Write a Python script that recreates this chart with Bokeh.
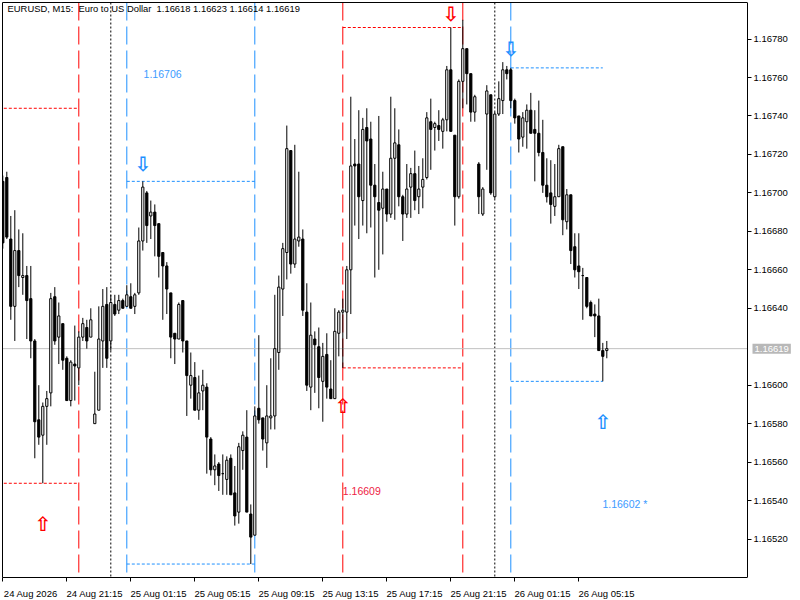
from bokeh.plotting import figure
from bokeh.models import (FixedTicker, Span, PrintfTickFormatter, Range1d, ColumnDataSource,
                          LinearAxis)
from bokeh.core.properties import value
from bokeh.embed import file_html
from bokeh.resources import INLINE

# ---------------- data (EURUSD M15) ----------------
opens = [1.16706, 1.16708, 1.16676, 1.16641, 1.16670, 1.16656, 1.16657, 1.16645, 1.16623, 1.16582,
         1.16574, 1.16589, 1.16596, 1.16646, 1.16625, 1.16632, 1.16614, 1.16592, 1.16611, 1.16609,
         1.16625, 1.16630, 1.16625, 1.16580, 1.16587, 1.16623, 1.16642, 1.16623, 1.16642, 1.16639,
         1.16644, 1.16641, 1.16646, 1.16641, 1.16648, 1.16675, 1.16700, 1.16688, 1.16690, 1.16684,
         1.16669, 1.16662, 1.16648, 1.16627, 1.16624, 1.16644, 1.16623, 1.16600, 1.16604, 1.16587,
         1.16597, 1.16599, 1.16572, 1.16556, 1.16559, 1.16554, 1.16551, 1.16562, 1.16544, 1.16534,
         1.16566, 1.16573, 1.16533, 1.16522, 1.16588, 1.16583, 1.16570, 1.16583, 1.16584, 1.16617,
         1.16650, 1.16669, 1.16722, 1.16663, 1.16675, 1.16676, 1.16638, 1.16599, 1.16624, 1.16620,
         1.16602, 1.16616, 1.16598, 1.16593, 1.16627, 1.16638, 1.16638, 1.16660, 1.16715, 1.16715,
         1.16696, 1.16734, 1.16728, 1.16704, 1.16695, 1.16692, 1.16702, 1.16689, 1.16718, 1.16725,
         1.16698, 1.16689, 1.16703, 1.16710, 1.16698, 1.16703, 1.16708, 1.16737, 1.16734, 1.16735,
         1.16732, 1.16738, 1.16764, 1.16730, 1.16698, 1.16758, 1.16775, 1.16762, 1.16742, 1.16715,
         1.16689, 1.16741, 1.16751, 1.16698, 1.16741, 1.16748, 1.16764, 1.16764, 1.16748, 1.16740,
         1.16729, 1.16737, 1.16743, 1.16733, 1.16731, 1.16721, 1.16704, 1.16700, 1.16693, 1.16698,
         1.16724, 1.16685, 1.16699, 1.16672, 1.16662, 1.16657, 1.16656, 1.16643, 1.16637, 1.16636,
         1.16618, 1.16618]
highs = [1.16709, 1.16711, 1.16688, 1.16691, 1.16681, 1.16679, 1.16662, 1.16662, 1.16624, 1.16600,
         1.16591, 1.16597, 1.16648, 1.16651, 1.16643, 1.16632, 1.16615, 1.16613, 1.16631, 1.16628,
         1.16635, 1.16634, 1.16640, 1.16607, 1.16641, 1.16650, 1.16651, 1.16647, 1.16647, 1.16647,
         1.16645, 1.16652, 1.16653, 1.16648, 1.16682, 1.16706, 1.16701, 1.16696, 1.16694, 1.16684,
         1.16669, 1.16664, 1.16648, 1.16627, 1.16643, 1.16644, 1.16623, 1.16617, 1.16612, 1.16605,
         1.16608, 1.16601, 1.16573, 1.16564, 1.16560, 1.16564, 1.16563, 1.16564, 1.16558, 1.16570,
         1.16576, 1.16587, 1.16538, 1.16589, 1.16626, 1.16583, 1.16600, 1.16614, 1.16647, 1.16657,
         1.16674, 1.16735, 1.16722, 1.16725, 1.16711, 1.16681, 1.16653, 1.16643, 1.16628, 1.16630,
         1.16622, 1.16627, 1.16613, 1.16640, 1.16639, 1.16645, 1.16662, 1.16750, 1.16728, 1.16743,
         1.16739, 1.16744, 1.16737, 1.16715, 1.16740, 1.16711, 1.16702, 1.16750, 1.16744, 1.16733,
         1.16699, 1.16715, 1.16713, 1.16722, 1.16714, 1.16718, 1.16742, 1.16749, 1.16737, 1.16743,
         1.16739, 1.16766, 1.16786, 1.16730, 1.16759, 1.16790, 1.16775, 1.16762, 1.16751, 1.16716,
         1.16703, 1.16756, 1.16751, 1.16742, 1.16758, 1.16768, 1.16766, 1.16765, 1.16749, 1.16740,
         1.16742, 1.16746, 1.16752, 1.16743, 1.16748, 1.16738, 1.16718, 1.16717, 1.16715, 1.16725,
         1.16724, 1.16702, 1.16699, 1.16679, 1.16679, 1.16661, 1.16656, 1.16644, 1.16642, 1.16645,
         1.16622, 1.16623]
lows = [1.16671, 1.16676, 1.16634, 1.16623, 1.16651, 1.16647, 1.16624, 1.16614, 1.16562, 1.16569,
        1.16549, 1.16569, 1.16589, 1.16621, 1.16611, 1.16608, 1.16592, 1.16589, 1.16592, 1.16600,
        1.16623, 1.16619, 1.16625, 1.16580, 1.16587, 1.16609, 1.16609, 1.16618, 1.16636, 1.16637,
        1.16640, 1.16641, 1.16640, 1.16637, 1.16647, 1.16670, 1.16674, 1.16676, 1.16667, 1.16656,
        1.16634, 1.16637, 1.16614, 1.16611, 1.16624, 1.16617, 1.16584, 1.16593, 1.16587, 1.16582,
        1.16587, 1.16554, 1.16553, 1.16548, 1.16545, 1.16543, 1.16543, 1.16543, 1.16527, 1.16528,
        1.16556, 1.16534, 1.16507, 1.16522, 1.16580, 1.16566, 1.16557, 1.16577, 1.16577, 1.16608,
        1.16636, 1.16655, 1.16658, 1.16661, 1.16672, 1.16636, 1.16597, 1.16587, 1.16596, 1.16588,
        1.16581, 1.16593, 1.16593, 1.16593, 1.16615, 1.16609, 1.16624, 1.16637, 1.16683, 1.16676,
        1.16683, 1.16679, 1.16682, 1.16656, 1.16660, 1.16668, 1.16685, 1.16687, 1.16686, 1.16693,
        1.16675, 1.16687, 1.16687, 1.16691, 1.16689, 1.16692, 1.16707, 1.16712, 1.16722, 1.16727,
        1.16723, 1.16732, 1.16732, 1.16683, 1.16697, 1.16744, 1.16746, 1.16737, 1.16737, 1.16689,
        1.16688, 1.16712, 1.16699, 1.16697, 1.16740, 1.16741, 1.16759, 1.16744, 1.16736, 1.16721,
        1.16724, 1.16723, 1.16731, 1.16706, 1.16719, 1.16700, 1.16695, 1.16684, 1.16688, 1.16698,
        1.16678, 1.16681, 1.16663, 1.16656, 1.16650, 1.16634, 1.16640, 1.16636, 1.16625, 1.16618,
        1.16602, 1.16614]
closes = [1.16674, 1.16677, 1.16641, 1.16670, 1.16657, 1.16657, 1.16644, 1.16623, 1.16581, 1.16573,
          1.16589, 1.16593, 1.16645, 1.16623, 1.16636, 1.16613, 1.16592, 1.16612, 1.16610, 1.16625,
          1.16632, 1.16623, 1.16634, 1.16585, 1.16624, 1.16641, 1.16614, 1.16643, 1.16637, 1.16644,
          1.16640, 1.16647, 1.16640, 1.16647, 1.16675, 1.16703, 1.16683, 1.16690, 1.16683, 1.16667,
          1.16662, 1.16650, 1.16625, 1.16624, 1.16642, 1.16623, 1.16605, 1.16605, 1.16587, 1.16596,
          1.16600, 1.16573, 1.16556, 1.16558, 1.16553, 1.16554, 1.16561, 1.16543, 1.16532, 1.16568,
          1.16574, 1.16534, 1.16521, 1.16584, 1.16582, 1.16572, 1.16584, 1.16584, 1.16619, 1.16651,
          1.16671, 1.16723, 1.16663, 1.16676, 1.16677, 1.16639, 1.16600, 1.16626, 1.16621, 1.16604,
          1.16615, 1.16599, 1.16593, 1.16628, 1.16638, 1.16639, 1.16660, 1.16714, 1.16714, 1.16698,
          1.16733, 1.16727, 1.16704, 1.16698, 1.16691, 1.16702, 1.16689, 1.16718, 1.16726, 1.16698,
          1.16689, 1.16702, 1.16710, 1.16696, 1.16702, 1.16707, 1.16739, 1.16733, 1.16736, 1.16733,
          1.16738, 1.16764, 1.16732, 1.16698, 1.16758, 1.16775, 1.16762, 1.16742, 1.16750, 1.16698,
          1.16702, 1.16753, 1.16700, 1.16741, 1.16749, 1.16764, 1.16762, 1.16748, 1.16739, 1.16728,
          1.16739, 1.16743, 1.16731, 1.16731, 1.16721, 1.16704, 1.16698, 1.16694, 1.16698, 1.16723,
          1.16686, 1.16699, 1.16670, 1.16660, 1.16659, 1.16657, 1.16641, 1.16636, 1.16636, 1.16618,
          1.16615, 1.16619]

x_tick_bars = [0, 16, 32, 48, 64, 80, 96, 112, 128, 144]
x_tick_labels = ["24 Aug 2026", "24 Aug 21:15", "25 Aug 01:15", "25 Aug 05:15", "25 Aug 09:15",
                 "25 Aug 13:15", "25 Aug 17:15", "25 Aug 21:15", "26 Aug 01:15", "26 Aug 05:15"]
y_ticks = [1.16520, 1.16540, 1.16560, 1.16580, 1.16600, 1.16640, 1.16660,
           1.16680, 1.16700, 1.16720, 1.16740, 1.16760, 1.16780]

red_vlines = [19, 85, 115]
blue_vlines = [31, 63, 127]
day_separators = [27, 123]

range_x0 = [-1, -1, 31, 31, 85, 85, 127, 127]
range_x1 = [19, 19, 63, 63, 115, 115, 150, 150]
range_price = [1.16744, 1.16549, 1.16706, 1.16507, 1.16786, 1.16609, 1.16765, 1.16602]
range_color = ["#FF0000", "#FF0000", "#1E90FF", "#1E90FF", "#FF0000", "#FF0000", "#1E90FF", "#1E90FF"]

arrow_bar = [10, 35, 85, 112, 127, 150]
arrow_price = [1.16528, 1.16715, 1.16589, 1.16793, 1.16775, 1.16581]
arrow_symbol = ["\u21e7", "\u21e9", "\u21e7", "\u21e9", "\u21e9", "\u21e7"]
arrow_color = ["#FF0000", "#1E90FF", "#FF0000", "#FF0000", "#1E90FF", "#1E90FF"]

level_bar = [35.2, 85.0, 149.9]
level_price = [1.16762, 1.16545, 1.16538]
level_text = ["1.16706", "1.16609", "1.16602 *"]
level_color = ["#3C9BFF", "#EE2244", "#3C9BFF"]

last_price = 1.16619
NB = "\u00a0"
title_text = ("EURUSD, M15:" + NB * 2 + "Euro to US Dollar" + NB * 2 +
              "1.16618 1.16623 1.16614 1.16619")

# ---------------- figure ----------------
FONT = "Liberation Sans"
X_START = -0.075
X_END = 186.175        # right edge of the chart area (price scale starts here)
FRAME_W = 790
bars = list(range(len(opens)))
bull = [c >= o for o, c in zip(opens, closes)]
src = ColumnDataSource(dict(
    x=bars, o=opens, h=highs, l=lows, c=closes,
    top=[max(o, c) for o, c in zip(opens, closes)],
    bot=[min(o, c) for o, c in zip(opens, closes)],
    fill=["white" if b else "black" for b in bull],
))

p = figure(frame_width=FRAME_W, frame_height=575,
           x_range=Range1d(X_START, X_START + FRAME_W / 4.0), y_range=Range1d(1.16500, 1.16799),
           y_axis_location="left", output_backend="svg", toolbar_location=None,
           min_border_left=2, min_border_top=2, min_border_right=0, min_border_bottom=0,
           background_fill_color="white", border_fill_color="white")
p.grid.visible = False
p.outline_line_color = None

# left border (axis line only)
la = p.left[0]
la.ticker = FixedTicker(ticks=[])
la.major_label_text_font_size = "0px"
la.major_tick_line_color = None
la.minor_tick_line_color = None
la.axis_line_color = "black"
la.major_label_standoff = 0

# x axis: tick marks at the bar positions (minor), labels to their right (major, hidden marks)
xa = p.below[0]
label_pos = [b + 7 for b in x_tick_bars]
xa.ticker = FixedTicker(ticks=label_pos, minor_ticks=x_tick_bars)
xa.major_label_overrides = {lp: t for lp, t in zip(label_pos, x_tick_labels)}
xa.bounds = (X_START, X_END)
xa.major_tick_line_color = None
xa.minor_tick_line_color = "black"
xa.minor_tick_out = 4
xa.minor_tick_in = 0
xa.major_label_standoff = 4
xa.axis_line_color = "black"
xa.major_label_text_font = FONT
xa.major_label_text_font_size = "9.5px"
xa.major_label_text_color = "black"

# top border (axis line only)
ta = LinearAxis(ticker=FixedTicker(ticks=[]), bounds=(X_START, X_END),
                major_label_text_font_size="0px", major_tick_line_color=None,
                minor_tick_line_color=None, axis_line_color="black", major_label_standoff=0)
p.add_layout(ta, "above")

# price scale, fixed at the right edge of the chart area
ya = LinearAxis(fixed_location=X_END, ticker=FixedTicker(ticks=y_ticks),
                formatter=PrintfTickFormatter(format="%.5f"),
                major_tick_out=4, major_tick_in=0, minor_tick_line_color=None,
                major_label_standoff=2, axis_line_color="black",
                major_label_text_font=FONT, major_label_text_font_size="9.5px",
                major_label_text_color="black")
p.add_layout(ya, "right")

# session / day lines
for b in red_vlines:
    p.add_layout(Span(location=b, dimension="height", line_color="#FF0000", line_width=1,
                      line_dash="18 6", level="underlay"))
for b in blue_vlines:
    p.add_layout(Span(location=b, dimension="height", line_color="#1E90FF", line_width=1,
                      line_dash="18 6", level="underlay"))
for b in day_separators:
    p.add_layout(Span(location=b, dimension="height", line_color="black", line_width=1,
                      line_dash="2 2", level="underlay"))

# current price line
p.segment(x0=[X_START], x1=[X_END], y0=[last_price], y1=[last_price], line_color="#C0C0C0",
          line_width=1)

# range high/low lines
p.segment(x0=range_x0, x1=range_x1, y0=range_price, y1=range_price, line_color=range_color,
          line_width=1, line_dash="3 2")

# candles
p.segment(x0="x", x1="x", y0="l", y1="h", source=src, line_color="black", line_width=1)
p.vbar(x="x", width=0.55, top="top", bottom="bot", source=src, fill_color="fill",
       line_color="black", line_width=1)

# arrows
p.text(x=arrow_bar, y=arrow_price, text=arrow_symbol, text_color=arrow_color,
       text_font=value("DejaVu Sans"), text_font_size=value("20px"), text_font_style="bold",
       text_align="center", text_baseline="middle")

# level texts
p.text(x=level_bar, y=level_price, text=level_text, text_color=level_color,
       text_font=value(FONT), text_font_size=value("10.5px"),
       text_align="left", text_baseline="middle")

# header
p.text(x=[1.2], y=[1.16796], text=[title_text], text_color="black",
       text_font=value(FONT), text_font_size=value("9.4px"),
       text_align="left", text_baseline="middle")

# current price tag on the price scale
p.text(x=[X_END], y=[last_price], text=[f"{last_price:.5f}"], x_offset=5,
       text_color="white", text_font=value(FONT), text_font_size=value("9.5px"),
       text_align="left", text_baseline="middle",
       background_fill_color="#B8B8B8", padding=2)

open("out.html", "w").write(file_html(p, INLINE))
